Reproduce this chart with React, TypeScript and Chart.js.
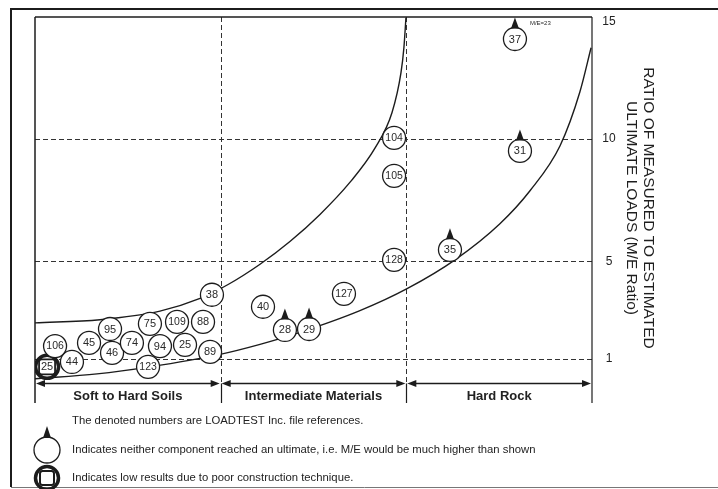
import { useEffect, useRef } from "react";
import { Chart, registerables } from "chart.js";

Chart.register(...registerables);

// ---- data ----
const fileRefs = ["25", "44", "106", "45", "95", "46", "74", "75", "94", "123", "109", "25", "88", "89", "38", "40", "28", "29", "127", "128", "105", "104", "35", "31", "37"];
const materialPos = [0.065, 0.199, 0.108, 0.291, 0.404, 0.415, 0.522, 0.619, 0.673, 0.609, 0.765, 0.808, 0.905, 0.943, 0.953, 1.228, 1.346, 1.476, 1.664, 1.934, 1.934, 1.934, 2.235, 2.612, 2.585];
const meRatio = [0.68, 0.88, 1.53, 1.66, 2.23, 1.25, 1.66, 2.44, 1.53, 0.68, 2.52, 1.58, 2.52, 1.29, 3.63, 3.14, 2.19, 2.23, 3.67, 5.06, 8.5, 10.05, 5.47, 9.52, 14.1];
// n = normal, u = neither component reached an ultimate, p = poor construction
const markerKind = ["p", "n", "n", "n", "n", "n", "n", "n", "n", "n", "n", "n", "n", "n", "n", "n", "u", "u", "n", "n", "n", "n", "u", "u", "u"];

const upperX = [0, 0.35, 0.673, 0.889, 1.04, 1.212, 1.373, 1.535, 1.697, 1.831, 1.923, 1.971, 1.987, 1.998];
const upperY = [2.48, 2.61, 2.96, 3.48, 4.05, 4.88, 5.81, 6.92, 8.24, 9.63, 11.09, 12.71, 13.75, 14.98];
const lowerX = [0, 0.334, 0.619, 0.991, 1.212, 1.427, 1.75, 2.004, 2.262, 2.504, 2.666, 2.828, 2.935, 2.995];
const lowerY = [0.19, 0.39, 0.68, 1.18, 1.6, 2.09, 2.98, 3.88, 5.06, 6.54, 7.89, 9.73, 11.94, 13.74];

const ratioTicks = [1, 5, 10, 15];
const gridRatios = [1, 5, 10];
const zoneBounds = [0, 1, 2, 3];
const zoneLabels = ["Soft to Hard Soils", "Intermediate Materials", "Hard Rock"];
const axisTitle = ["RATIO OF MEASURED TO ESTIMATED", "ULTIMATE LOADS (M/E Ratio)"];
const notes = [
  "The denoted numbers are LOADTEST Inc. file references.",
  "Indicates neither component reached an ultimate, i.e. M/E would be much higher than shown",
  "Indicates low results due to poor construction technique.",
];
const offscaleNote = "M/E=23";

const FONT = "'Liberation Sans', Arial, sans-serif";
const INK = "#1c1c1c";

function drawTriangle(ctx: CanvasRenderingContext2D, cx: number, tipY: number, baseY: number, hw: number) {
  ctx.beginPath();
  ctx.moveTo(cx, tipY);
  ctx.lineTo(cx + hw, baseY);
  ctx.lineTo(cx - hw, baseY);
  ctx.closePath();
  ctx.fill();
}

function roundRect(ctx: CanvasRenderingContext2D, x: number, y: number, w: number, h: number, r: number) {
  ctx.beginPath();
  ctx.moveTo(x + r, y);
  ctx.lineTo(x + w - r, y);
  ctx.quadraticCurveTo(x + w, y, x + w, y + r);
  ctx.lineTo(x + w, y + h - r);
  ctx.quadraticCurveTo(x + w, y + h, x + w - r, y + h);
  ctx.lineTo(x + r, y + h);
  ctx.quadraticCurveTo(x, y + h, x, y + h - r);
  ctx.lineTo(x, y + r);
  ctx.quadraticCurveTo(x, y, x + r, y);
  ctx.closePath();
}

const decorPlugin = {
  id: "decor",
  beforeDatasetsDraw(chart: any) {
    const { ctx, chartArea: a, scales } = chart;
    const x = scales.x;
    const y = scales.y;
    const y0 = y.getPixelForValue(0);
    const line = (x1: number, y1: number, x2: number, y2: number) => {
      ctx.beginPath();
      ctx.moveTo(x1, y1);
      ctx.lineTo(x2, y2);
      ctx.stroke();
    };
    ctx.save();
    // outer frame
    ctx.strokeStyle = INK;
    ctx.lineWidth = 2;
    ctx.beginPath();
    ctx.moveTo(11, 487);
    ctx.lineTo(11, 9);
    ctx.lineTo(718, 9);
    ctx.stroke();
    ctx.lineWidth = 1;
    ctx.strokeStyle = "#777";
    line(11, 487.5, 718, 487.5);

    // dashed grid
    ctx.strokeStyle = "#333";
    ctx.lineWidth = 1;
    ctx.setLineDash([5, 3]);
    gridRatios.forEach((v) => {
      const py = Math.round(y.getPixelForValue(v)) + 0.5;
      line(a.left, py, a.right, py);
    });
    zoneBounds.slice(1, -1).forEach((v) => {
      const px = Math.round(x.getPixelForValue(v)) + 0.5;
      line(px, a.top, px, y0);
    });
    ctx.setLineDash([]);

    // solid plot borders
    ctx.strokeStyle = INK;
    ctx.lineWidth = 1.5;
    line(a.left, a.top, a.right, a.top);
    line(a.left, a.top, a.left, a.bottom);
    ctx.lineWidth = 1.2;
    line(a.right, a.top, a.right, a.bottom);
    zoneBounds.slice(1, -1).forEach((v) => {
      const px = Math.round(x.getPixelForValue(v)) + 0.5;
      line(px, y0, px, a.bottom);
    });

    // zone arrows + labels
    ctx.fillStyle = INK;
    for (let i = 0; i < zoneLabels.length; i++) {
      const xa = x.getPixelForValue(zoneBounds[i]) + 1;
      const xb = x.getPixelForValue(zoneBounds[i + 1]) - 1;
      ctx.lineWidth = 1.5;
      line(xa + 4, y0, xb - 4, y0);
      ctx.beginPath();
      ctx.moveTo(xa, y0);
      ctx.lineTo(xa + 9, y0 - 3.5);
      ctx.lineTo(xa + 9, y0 + 3.5);
      ctx.closePath();
      ctx.fill();
      ctx.beginPath();
      ctx.moveTo(xb, y0);
      ctx.lineTo(xb - 9, y0 - 3.5);
      ctx.lineTo(xb - 9, y0 + 3.5);
      ctx.closePath();
      ctx.fill();
      ctx.font = `bold 13px ${FONT}`;
      ctx.textAlign = "center";
      ctx.textBaseline = "middle";
      ctx.fillStyle = "#222";
      ctx.fillText(zoneLabels[i], (xa + xb) / 2, y0 + 12.5);
      ctx.fillStyle = INK;
    }

    // right ratio ticks
    ctx.font = `12px ${FONT}`;
    ctx.textAlign = "center";
    ctx.fillStyle = "#222";
    ratioTicks.forEach((v) => {
      let py = y.getPixelForValue(v);
      if (py < a.top + 4) py = a.top + 5;
      ctx.textBaseline = "middle";
      ctx.fillText(String(v), a.right + 17, py);
    });

    // axis title (rotated)
    ctx.font = `15.5px ${FONT}`;
    ctx.fillStyle = "#1e1e1e";
    const cy = (a.top + a.bottom) / 2 - 2;
    [a.right + 56, a.right + 39].forEach((tx, i) => {
      ctx.save();
      ctx.translate(tx, cy);
      ctx.rotate(Math.PI / 2);
      ctx.textAlign = "center";
      ctx.textBaseline = "middle";
      ctx.fillText(axisTitle[i], 0, 0);
      ctx.restore();
    });

    // notes / legend
    ctx.font = `11.3px ${FONT}`;
    ctx.textAlign = "left";
    ctx.textBaseline = "middle";
    ctx.fillStyle = "#222";
    ctx.fillText(notes[0], 72, 421);
    ctx.fillText(notes[1], 72, 450);
    ctx.fillText(notes[2], 72, 478);
    // legend icon: open circle with triangle
    ctx.strokeStyle = INK;
    ctx.lineWidth = 1.3;
    ctx.beginPath();
    ctx.arc(47, 450, 13, 0, Math.PI * 2);
    ctx.stroke();
    ctx.fillStyle = INK;
    drawTriangle(ctx, 47, 426, 438, 4);
    // legend icon: heavy circle with square
    ctx.lineWidth = 3.5;
    ctx.beginPath();
    ctx.arc(47, 478, 11.5, 0, Math.PI * 2);
    ctx.stroke();
    ctx.lineWidth = 2;
    ctx.fillStyle = "#fff";
    roundRect(ctx, 40, 471, 14, 14, 2.5);
    ctx.fill();
    ctx.stroke();
    ctx.restore();
  },
  afterDatasetsDraw(chart: any) {
    const { ctx, scales } = chart;
    const x = scales.x;
    const y = scales.y;
    const r = 11.5;
    ctx.save();
    for (let i = 0; i < fileRefs.length; i++) {
      const px = x.getPixelForValue(materialPos[i]);
      const py = y.getPixelForValue(meRatio[i]);
      if (markerKind[i] === "p") {
        ctx.strokeStyle = INK;
        ctx.lineWidth = 1.8;
        ctx.fillStyle = "#fff";
        roundRect(ctx, px - 8, py - 7.5, 16, 15, 2.5);
        ctx.fill();
        ctx.stroke();
      }
      if (markerKind[i] === "u") {
        ctx.fillStyle = INK;
        drawTriangle(ctx, px, py - r - 10, py - r + 1, 4);
      }
      ctx.fillStyle = "#2a2a2a";
      ctx.font = `${fileRefs[i].length > 2 ? 10.5 : 11}px ${FONT}`;
      ctx.textAlign = "center";
      ctx.textBaseline = "middle";
      ctx.fillText(fileRefs[i], px, py + 0.5);
      if (fileRefs[i] === "37") {
        ctx.font = `6px ${FONT}`;
        ctx.textAlign = "left";
        ctx.fillText(offscaleNote, px + 15, py - r - 4);
      }
    }
    ctx.restore();
  },
};

export default function App() {
  const ref = useRef<HTMLCanvasElement | null>(null);
  useEffect(() => {
    if (!ref.current) return;
    const chart = new Chart(ref.current, {
      type: "scatter",
      data: {
        datasets: [
          {
            label: "points",
            data: materialPos.map((v, i) => ({ x: v, y: meRatio[i] })),
            pointRadius: 11.5,
            pointBackgroundColor: "#fff",
            pointBorderColor: INK,
            pointBorderWidth: markerKind.map((k) => (k === "p" ? 3.5 : 1.3)),
            order: 0,
          },
          {
            label: "upper",
            data: upperX.map((v, i) => ({ x: v, y: upperY[i] })),
            showLine: true,
            pointRadius: 0,
            borderColor: INK,
            borderWidth: 1.4,
            cubicInterpolationMode: "monotone",
            order: 1,
          },
          {
            label: "lower",
            data: lowerX.map((v, i) => ({ x: v, y: lowerY[i] })),
            showLine: true,
            pointRadius: 0,
            borderColor: INK,
            borderWidth: 1.4,
            cubicInterpolationMode: "monotone",
            order: 1,
          },
        ],
      },
      options: {
        responsive: false,
        animation: false,
        layout: { padding: { left: 35, top: 17, right: 718 - 592, bottom: 489 - 403 } },
        scales: {
          x: { type: "linear", min: 0, max: 3, display: false },
          y: { type: "linear", min: -0.8, max: 15, display: false },
        },
        plugins: { legend: { display: false }, tooltip: { enabled: false } },
      },
      plugins: [decorPlugin],
    } as any);
    return () => chart.destroy();
  }, []);
  return (
    <div style={{ position: "fixed", left: 0, top: 0, width: 718, height: 489, background: "#fff" }}>
      <canvas ref={ref} width={718} height={489} style={{ display: "block" }} />
    </div>
  );
}
